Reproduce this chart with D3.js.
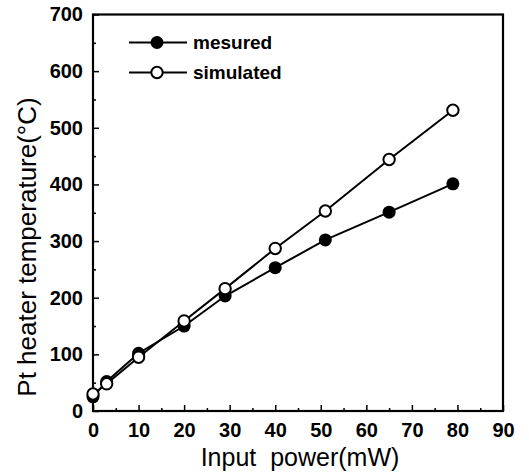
<!DOCTYPE html>
<html><head><meta charset="utf-8">
<script src="https://cdn.jsdelivr.net/npm/d3@7"></script>
<style>body{margin:0;background:#fff}svg{display:block}</style>
</head><body>
<script>
const powerX = [0, 3, 10, 20, 29, 40, 51, 65, 79];
const measured = [25, 52, 102, 150, 203, 253, 302, 351, 401];
const simulated = [30, 48, 95, 159, 216, 287, 353, 444, 531];
const xTicks = [0, 10, 20, 30, 40, 50, 60, 70, 80, 90];
const yTicks = [0, 100, 200, 300, 400, 500, 600, 700];
const seriesNames = ["mesured", "simulated"];

const W = 529, H = 476;
const L = 93, R = 503, T = 14.5, B = 411;
const svg = d3.select("body").append("svg").attr("width", W).attr("height", H);
const x = d3.scaleLinear().domain([0, 90]).range([L, R]);
const y = d3.scaleLinear().domain([0, 700]).range([B, T]);
const font = "'Liberation Sans', Arial, sans-serif";

// axes with inward ticks
const xAxis = d3.axisBottom(x).tickValues(xTicks).tickSize(-6).tickPadding(12).tickFormat(d3.format("d"));
const yAxis = d3.axisLeft(y).tickValues(yTicks).tickSize(-6).tickPadding(10).tickFormat(d3.format("d"));
const gx = svg.append("g").attr("transform", `translate(0,${B})`).call(xAxis);
const gy = svg.append("g").attr("transform", `translate(${L},0)`).call(yAxis);
[gx, gy].forEach(g => {
  g.select(".domain").remove();
  g.selectAll("line").attr("stroke", "#000").attr("stroke-width", 1.5);
  g.selectAll("text").attr("font-family", font).attr("font-weight", "bold").attr("font-size", 20).attr("fill", "#000");
});
// minor ticks
const xMinor = d3.range(5, 90, 10);
const yMinor = d3.range(50, 700, 100);
svg.append("g").attr("transform", `translate(0,${B})`)
  .call(d3.axisBottom(x).tickValues(xMinor).tickSize(-3).tickFormat(""))
  .call(g => { g.select(".domain").remove(); g.selectAll("line").attr("stroke", "#000").attr("stroke-width", 1.5); });
svg.append("g").attr("transform", `translate(${L},0)`)
  .call(d3.axisLeft(y).tickValues(yMinor).tickSize(-3).tickFormat(""))
  .call(g => { g.select(".domain").remove(); g.selectAll("line").attr("stroke", "#000").attr("stroke-width", 1.5); });

// frame
svg.append("rect").attr("x", L).attr("y", T).attr("width", R - L).attr("height", B - T)
  .attr("fill", "none").attr("stroke", "#000").attr("stroke-width", 2.2);

const line = d3.line().x(d => x(d[0])).y(d => y(d[1]));
const mData = powerX.map((p, i) => [p, measured[i]]);
const sData = powerX.map((p, i) => [p, simulated[i]]);

const r = 6.5;
svg.append("path").datum(mData).attr("d", line).attr("fill", "none").attr("stroke", "#000").attr("stroke-width", 2);
svg.append("path").datum(sData).attr("d", line).attr("fill", "none").attr("stroke", "#000").attr("stroke-width", 2);
svg.append("g").selectAll("circle").data(mData).join("circle")
  .attr("cx", d => x(d[0])).attr("cy", d => y(d[1])).attr("r", r).attr("fill", "#000");
svg.append("g").selectAll("circle").data(sData).join("circle")
  .attr("cx", d => x(d[0])).attr("cy", d => y(d[1])).attr("r", r - 0.8)
  .attr("fill", "#fff").attr("stroke", "#000").attr("stroke-width", 2);

// legend
const leg = svg.append("g");
seriesNames.forEach((name, i) => {
  const ly = 42.5 + i * 30;
  leg.append("line").attr("x1", 129).attr("x2", 187).attr("y1", ly).attr("y2", ly).attr("stroke", "#000").attr("stroke-width", 2);
  if (i === 0) leg.append("circle").attr("cx", 157).attr("cy", ly).attr("r", 6.5).attr("fill", "#000");
  else leg.append("circle").attr("cx", 157).attr("cy", ly).attr("r", 5.7).attr("fill", "#fff").attr("stroke", "#000").attr("stroke-width", 2);
  leg.append("text").attr("x", 193).attr("y", ly).attr("dy", "0.35em")
    .attr("font-family", font).attr("font-weight", "bold").attr("font-size", 19).text(name);
});

// titles
svg.append("text").attr("x", 300).attr("y", 466).attr("text-anchor", "middle")
  .attr("font-family", font).attr("font-size", 25).attr("xml:space", "preserve").text("Input  power(mW)");
svg.append("text").attr("transform", "translate(36,247) rotate(-90)").attr("text-anchor", "middle")
  .attr("font-family", font).attr("font-size", 26).text("Pt heater temperature(°C)");
</script>
</body></html>
